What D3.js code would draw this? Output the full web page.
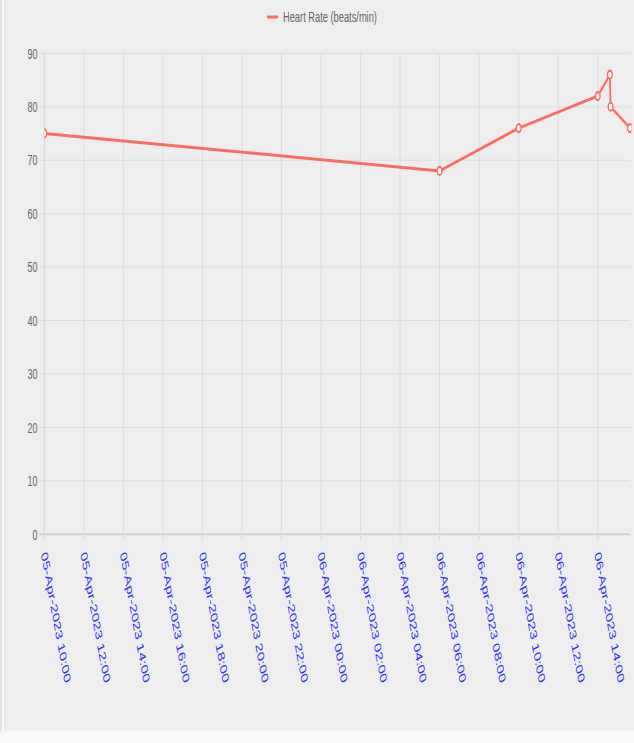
<!DOCTYPE html>
<html><head><meta charset="utf-8">
<script src="https://cdn.jsdelivr.net/npm/d3@7"></script>
<style>html,body{margin:0;padding:0;background:#fafafa;} svg{display:block}</style>
</head><body><svg id="c" width="634" height="743"></svg>
<script>
// ---- data ----
const seriesName = "Heart Rate (beats/min)";
const times = ["05-Apr-2023 10:00","06-Apr-2023 06:00","06-Apr-2023 10:00","06-Apr-2023 14:00","06-Apr-2023 14:37","06-Apr-2023 14:39","06-Apr-2023 15:38"];
const heartRate = [75, 68, 76, 82, 86, 80, 76];
const yTicks = [0, 10, 20, 30, 40, 50, 60, 70, 80, 90];
const xTickLabels = ["05-Apr-2023 10:00","05-Apr-2023 12:00","05-Apr-2023 14:00","05-Apr-2023 16:00","05-Apr-2023 18:00","05-Apr-2023 20:00","05-Apr-2023 22:00","06-Apr-2023 00:00","06-Apr-2023 02:00","06-Apr-2023 04:00","06-Apr-2023 06:00","06-Apr-2023 08:00","06-Apr-2023 10:00","06-Apr-2023 12:00","06-Apr-2023 14:00"];

// ---- layout ----
const SX = 0.6; // horizontal squeeze of the reference picture
const parse = d3.timeParse("%d-%b-%Y %H:%M");
const pts = times.map((t, i) => ({t: parse(t), v: heartRate[i]}));
const pLeft = 44.3 / SX, pRight = 630 / SX, pTop = 53.3, pBottom = 534.3;
const RED = "#fc6c65";

const svg = d3.select("#c");
svg.append("rect").attr("width", 634).attr("height", 743).attr("fill", "#fafafa");
svg.append("rect").attr("x", 4).attr("y", 0).attr("width", 630).attr("height", 730).attr("fill", "#eeeeee");
svg.append("rect").attr("x", 0).attr("y", 0).attr("width", 2).attr("height", 733).attr("fill", "#e2e2e2");
svg.append("rect").attr("x", 4).attr("y", 0).attr("width", 1).attr("height", 730).attr("fill", "#e6e6e6");
svg.append("rect").attr("x", 0).attr("y", 730).attr("width", 634).attr("height", 2).attr("fill", "#f4f4f4");

const g = svg.append("g").attr("transform", `scale(${SX},1)`);

const x = d3.scaleTime().domain(d3.extent(pts, d => d.t)).range([pLeft, pRight]);
const y = d3.scaleLinear().domain([0, 90]).range([pBottom, pTop]);

// horizontal grid
g.append("g").selectAll("line").data(yTicks).join("line")
  .attr("x1", pLeft - 5 / SX).attr("x2", pRight)
  .attr("y1", d => y(d)).attr("y2", d => y(d))
  .attr("stroke", d => d === 0 ? "#d2d2d2" : "#dddddd")
  .attr("stroke-width", d => d === 0 ? 2 : 1)
  .attr("vector-effect", "non-scaling-stroke");

// vertical grid
const xTicks = xTickLabels.map(parse);
g.append("g").selectAll("line").data(xTicks).join("line")
  .attr("x1", d => x(d)).attr("x2", d => x(d))
  .attr("y1", pTop).attr("y2", pBottom + 6)
  .attr("stroke", (d, i) => i === 0 ? "#d6d6d6" : "#dddddd")
  .attr("stroke-width", 1)
  .attr("vector-effect", "non-scaling-stroke");

// y labels
g.append("g").selectAll("text").data(yTicks).join("text")
  .attr("x", 37.5 / SX).attr("y", d => y(d)).attr("dy", "0.35em")
  .attr("text-anchor", "end")
  .attr("font-family", "Liberation Sans, Arial, sans-serif").attr("font-size", 15)
  .attr("fill", "#666").text(d => d);

// x labels (rotated)
g.append("g").selectAll("text").data(xTickLabels).join("text")
  .attr("transform", d => `translate(${x(parse(d)) - 3.5 / SX},554) rotate(73)`)
  .attr("font-family", "Liberation Sans, Arial, sans-serif").attr("font-size", 16.3)
  .attr("fill", "#2f2fff").text(d => d);

// clip
g.append("clipPath").attr("id", "plotclip").append("rect")
  .attr("x", pLeft).attr("y", 0).attr("width", pRight - pLeft + 1.5 / SX).attr("height", pBottom + 10);

const plot = g.append("g").attr("clip-path", "url(#plotclip)");
plot.append("path").datum(pts)
  .attr("d", d3.line().x(d => x(d.t)).y(d => y(d.v)))
  .attr("fill", "none").attr("stroke", RED).attr("stroke-width", 3)
  .attr("stroke-linejoin", "round");
plot.selectAll("circle").data(pts).join("circle")
  .attr("cx", d => x(d.t)).attr("cy", d => y(d.v)).attr("r", 4)
  .attr("fill", "#ffffff").attr("stroke", RED).attr("stroke-width", 2.2);

// legend
g.append("rect").attr("x", 267 / SX).attr("y", 15.5).attr("width", 11 / SX).attr("height", 3).attr("fill", RED);
g.append("text").attr("x", 283 / SX).attr("y", 22.5)
  .attr("font-family", "Liberation Sans, Arial, sans-serif").attr("font-size", 15.5)
  .attr("fill", "#666").text(seriesName);
</script></body></html>
